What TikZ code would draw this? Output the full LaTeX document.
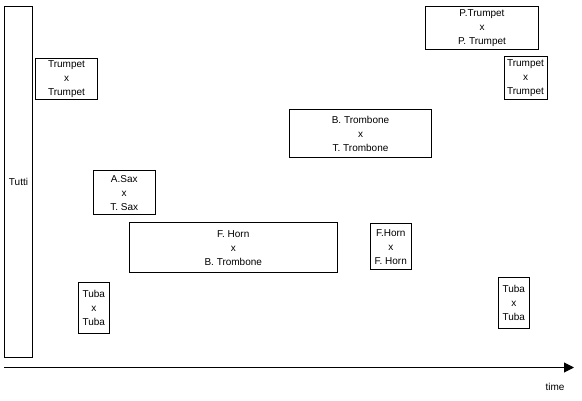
\documentclass[tikz,border=0pt]{standalone}
\usepackage{fontspec}
\setmainfont{Liberation Sans}
\usetikzlibrary{arrows.meta}
\tikzset{
  pbox/.style={draw, line width=1pt, inner sep=0pt, align=center, font=\fontsize{10}{14}\selectfont},
  lbl/.style={inner sep=0pt, font=\fontsize{10}{14}\selectfont}
}
\newcommand{\bx}[6]{% name, x1, y1, x2, y2, text
  \node[pbox, minimum width={(#4-#2)*1pt}, minimum height={(#5-#3)*1pt}] (#1) at ({(#2+#4)/2},{(#3+#5)/2}) {#6};}
\begin{document}
\begin{tikzpicture}[x=1pt,y=-1pt]
\useasboundingbox (0,0) rectangle (582,401);
\bx{tutti}{4.5}{6.5}{32.5}{358}{Tutti}
\bx{tr1}{35.5}{58.5}{97.5}{100}{Trumpet\\x\\Trumpet}
\bx{sax}{93.5}{170.5}{155}{215}{A.Sax\\x\\T. Sax}
\bx{fhbt}{129.5}{222.5}{337}{273}{F. Horn\\x\\B. Trombone}
\bx{tuba1}{78.5}{282.5}{109}{334}{Tuba\\x\\Tuba}
\bx{btt}{289.5}{109.5}{431.5}{157.5}{B. Trombone\\x\\T. Trombone}
\bx{fhfh}{370.5}{223.5}{411}{270}{F.Horn\\x\\F. Horn}
\bx{ptr}{425.5}{6.5}{538.5}{50}{P.Trumpet\\x\\P. Trumpet}
\bx{tr2}{504}{56.5}{547}{100}{Trumpet\\x\\Trumpet}
\bx{tuba2}{498.5}{277.5}{529}{328.5}{Tuba\\x\\Tuba}
\coordinate (a0) at (4,367.5);
\coordinate (a1) at (574,367.5);
\draw[line width=1pt, -{Triangle[length=10pt,width=10pt]}] (a0) -- (a1);
\node[lbl] (time) at (555,387) {time};
\end{tikzpicture}
\end{document}
